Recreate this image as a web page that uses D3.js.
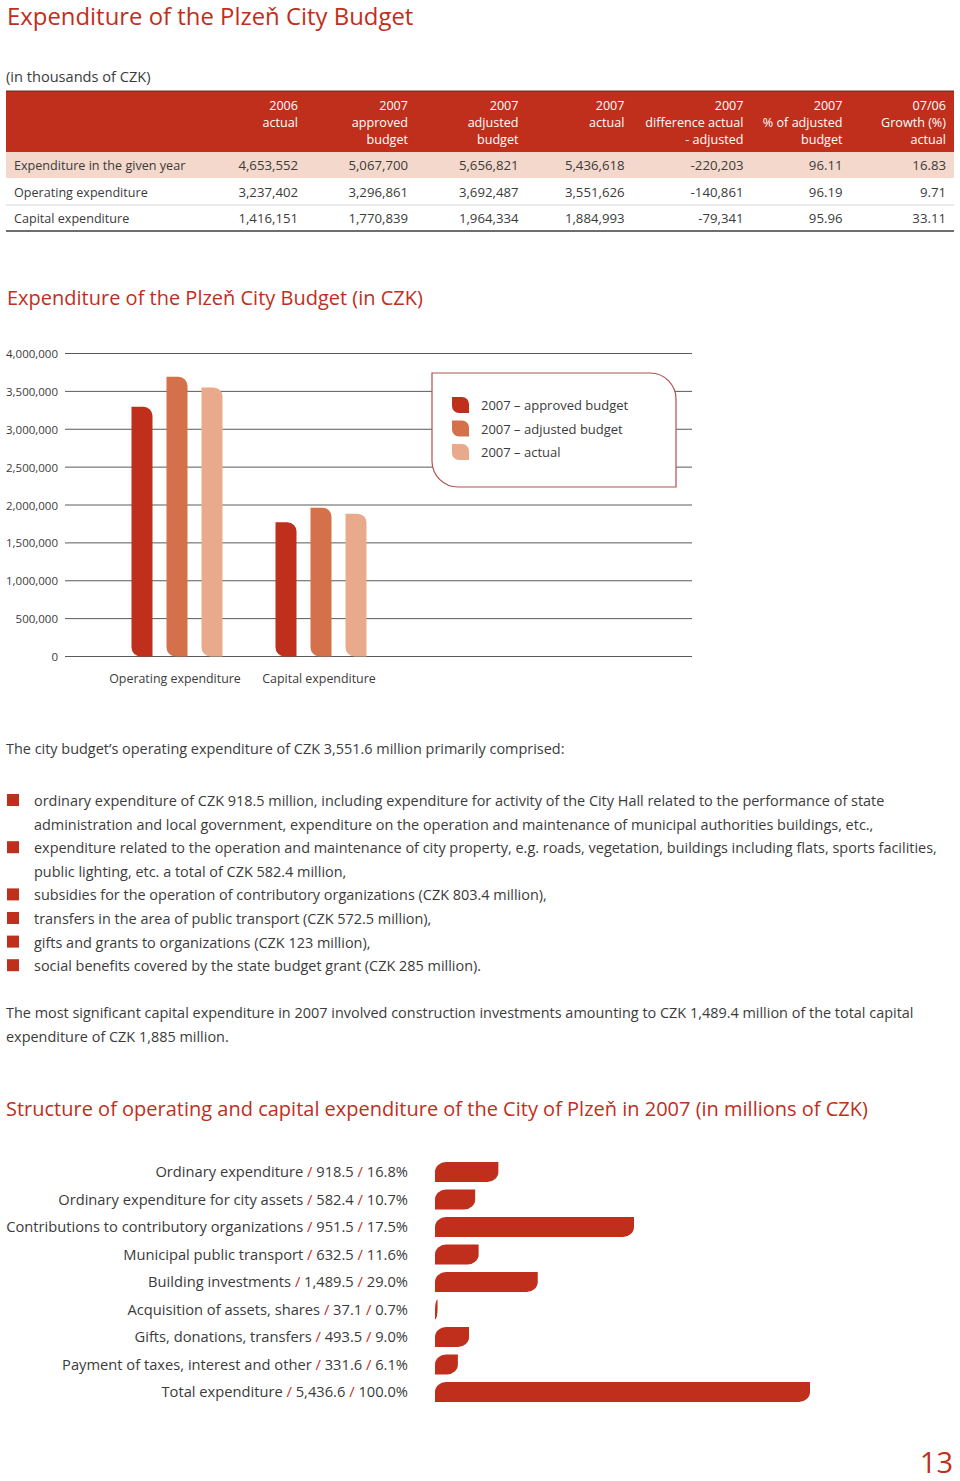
<!DOCTYPE html>
<html>
<head>
<meta charset="utf-8">
<script src="https://cdn.jsdelivr.net/npm/d3@7"></script>
<style>
  html, body { margin: 0; padding: 0; background: #fff; }
  svg { display: block; }
  text { font-family: "Open Sans", "Noto Sans", sans-serif; }
</style>
</head>
<body>
<svg id="page" width="960" height="1481"></svg>
<script>
// ---------------- DATA ----------------
const tableHeaders = [
  ["2006", "actual"],
  ["2007", "approved", "budget"],
  ["2007", "adjusted", "budget"],
  ["2007", "actual"],
  ["2007", "difference actual", "- adjusted"],
  ["2007", "% of adjusted", "budget"],
  ["07/06", "Growth (%)", "actual"]
];
const tableRowLabels = ["Expenditure in the given year", "Operating expenditure", "Capital expenditure"];
const actual2006   = [4653552, 3237402, 1416151];
const approved2007 = [5067700, 3296861, 1770839];
const adjusted2007 = [5656821, 3692487, 1964334];
const actual2007   = [5436618, 3551626, 1884993];
const diff2007     = [-220203, -140861, -79341];
const pctAdjusted  = [96.11, 96.19, 95.96];
const growth0706   = [16.83, 9.71, 33.11];

const barCategories = ["Operating expenditure", "Capital expenditure"];
const barSeries = ["2007 – approved budget", "2007 – adjusted budget", "2007 – actual"];
const opValues  = [3296861, 3692487, 3551626];
const capValues = [1770839, 1964334, 1884993];
const yTicks = [0, 500000, 1000000, 1500000, 2000000, 2500000, 3000000, 3500000, 4000000];

const introLine = "The city budget’s operating expenditure of CZK 3,551.6 million primarily comprised:";
const bulletItems = [
  ["ordinary expenditure of CZK 918.5 million, including expenditure for activity of the City Hall related to the performance of state",
   "administration and local government, expenditure on the operation and maintenance of municipal authorities buildings, etc.,"],
  ["expenditure related to the operation and maintenance of city property, e.g. roads, vegetation, buildings including flats, sports facilities,",
   "public lighting, etc. a total of CZK 582.4 million,"],
  ["subsidies for the operation of contributory organizations (CZK 803.4 million),"],
  ["transfers in the area of public transport (CZK 572.5 million),"],
  ["gifts and grants to organizations (CZK 123 million),"],
  ["social benefits covered by the state budget grant (CZK 285 million)."]
];
const closingLines = [
  "The most significant capital expenditure in 2007 involved construction investments amounting to CZK 1,489.4 million of the total capital",
  "expenditure of CZK 1,885 million."
];

const structNames = ["Ordinary expenditure", "Ordinary expenditure for city assets", "Contributions to contributory organizations",
  "Municipal public transport", "Building investments", "Acquisition of assets, shares", "Gifts, donations, transfers",
  "Payment of taxes, interest and other", "Total expenditure"];
const structValueLabels = ["918.5", "582.4", "951.5", "632.5", "1,489.5", "37.1", "493.5", "331.6", "5,436.6"];
const structPctLabels = ["16.8%", "10.7%", "17.5%", "11.6%", "29.0%", "0.7%", "9.0%", "6.1%", "100.0%"];
// bar lengths as drawn in the original (the contributions bar is drawn longer than its label value)
const structBarValues = [918.5, 582.4, 2885, 632.5, 1489.5, 37.1, 493.5, 331.6, 5436.6];

// ---------------- STYLE ----------------
const RED = "#bf2f1c", MID = "#d4704a", LIGHT = "#e9aa8c", TXT = "#3b3b3b", ROWBG = "#f3d8cb";
const seriesColors = [RED, MID, LIGHT];

const svg = d3.select("#page");
const loc = d3.formatLocale({ decimal: ".", thousands: ",", grouping: [3], currency: ["", ""], minus: "-" });
const fmt = loc.format(",");
const fmt2 = loc.format(".2f");

// ---------------- TITLE + TABLE ----------------
svg.append("text").attr("x", 7).attr("y", 25).attr("fill", RED)
  .style("font-size", "23.9px").text("Expenditure of the Plzeň City Budget");
svg.append("text").attr("x", 6).attr("y", 82).attr("fill", TXT)
  .style("font-size", "14.6px").text("(in thousands of CZK)");

const tLeft = 6, tRight = 954;
svg.append("rect").attr("x", tLeft).attr("y", 91).attr("width", tRight - tLeft).attr("height", 61).attr("fill", RED);
svg.append("line").attr("x1", tLeft).attr("x2", tRight).attr("y1", 91).attr("y2", 91).attr("stroke", "#6b2a20").attr("stroke-width", 1);
svg.append("rect").attr("x", tLeft).attr("y", 152).attr("width", tRight - tLeft).attr("height", 26).attr("fill", ROWBG);

const colRight = [298, 408, 518.5, 624.5, 743.5, 842.5, 946];
tableHeaders.forEach((lines, i) => {
  const t = svg.append("text").attr("text-anchor", "end").attr("fill", "#fff").style("font-size", "12.6px");
  lines.forEach((l, j) => t.append("tspan").attr("x", colRight[i]).attr("y", 110 + j * 17).text(l));
});
const rowY = [170, 197, 223];
const columnsData = [actual2006.map(fmt), approved2007.map(fmt), adjusted2007.map(fmt), actual2007.map(fmt),
  diff2007.map(fmt), pctAdjusted.map(fmt2), growth0706.map(fmt2)];
tableRowLabels.forEach((lab, r) => {
  svg.append("text").attr("x", 14).attr("y", rowY[r]).attr("fill", TXT).style("font-size", "12.6px").text(lab);
  columnsData.forEach((col, c) => {
    svg.append("text").attr("x", colRight[c]).attr("y", rowY[r]).attr("text-anchor", "end")
      .attr("fill", TXT).style("font-size", "13.2px").text(col[r]);
  });
});
svg.append("line").attr("x1", tLeft).attr("x2", tRight).attr("y1", 205).attr("y2", 205).attr("stroke", "#d8d8d8");
svg.append("line").attr("x1", tLeft).attr("x2", tRight).attr("y1", 231).attr("y2", 231).attr("stroke", "#6e6e6e").attr("stroke-width", 2);

// ---------------- VERTICAL BAR CHART ----------------
svg.append("text").attr("x", 7).attr("y", 305).attr("fill", RED)
  .style("font-size", "20px").text("Expenditure of the Plzeň City Budget (in CZK)");

const y = d3.scaleLinear().domain([0, 4000000]).range([656.5, 353.5]);
const gridL = 65, gridR = 692;
const grid = svg.append("g");
yTicks.forEach(t => {
  grid.append("line").attr("x1", gridL).attr("x2", gridR).attr("y1", y(t)).attr("y2", y(t))
    .attr("stroke", "#5a5a5a").attr("stroke-width", 1);
});
const yAxis = d3.axisLeft(y).tickValues(yTicks).tickFormat(fmt).tickSize(0).tickPadding(0);
const yg = svg.append("g").attr("transform", "translate(58,0)").call(yAxis);
yg.select(".domain").remove();
yg.selectAll("text").attr("fill", TXT).style("font-size", "11.5px").style("font-family", '"Open Sans", sans-serif').attr("dy", "0.35em");

// legend box (drawn over gridlines)
const lb = { x: 432, y: 373, w: 244, h: 114, r: 26 };
svg.append("path")
  .attr("d", `M${lb.x},${lb.y} H${lb.x + lb.w - lb.r} A${lb.r},${lb.r} 0 0 1 ${lb.x + lb.w},${lb.y + lb.r} V${lb.y + lb.h} H${lb.x + lb.r} A${lb.r},${lb.r} 0 0 1 ${lb.x},${lb.y + lb.h - lb.r} Z`)
  .attr("fill", "#fff").attr("stroke", "#b0524a").attr("stroke-width", 1.2);

function leafV(x, yTop, w, yBot, r) {
  const h = yBot - yTop;
  r = Math.min(r, w / 2, h / 2);
  return `M${x},${yTop} H${x + w - r} A${r},${r} 0 0 1 ${x + w},${yTop + r} V${yBot} H${x + r} A${r},${r} 0 0 1 ${x},${yBot - r} Z`;
}

const x0 = d3.scalePoint().domain(barCategories).range([177, 321]);
const x1 = d3.scaleBand().domain(barSeries).range([-45.5, 45.5]).paddingInner(0.4).paddingOuter(0);
const barGroups = [opValues, capValues];
barCategories.forEach((cat, ci) => {
  barGroups[ci].forEach((v, si) => {
    const bx = x0(cat) + x1(barSeries[si]);
    svg.append("path").attr("d", leafV(bx, y(v), x1.bandwidth(), y(0), 9)).attr("fill", seriesColors[si]);
  });
  svg.append("text").attr("x", x0(cat) - 2).attr("y", 683).attr("text-anchor", "middle")
    .attr("fill", TXT).style("font-size", "12.4px").text(cat);
});

barSeries.forEach((s, i) => {
  const ly = 405 + i * 23.5;
  svg.append("path").attr("d", leafV(452, ly - 8, 17, ly + 8, 7)).attr("fill", seriesColors[i]);
  svg.append("text").attr("x", 481).attr("y", ly + 5).attr("fill", TXT).style("font-size", "13px").text(s);
});

// ---------------- BODY TEXT ----------------
const bodyFs = "14.45px";
svg.append("text").attr("x", 6).attr("y", 754).attr("fill", TXT).style("font-size", bodyFs).text(introLine);
let ly = 806;
bulletItems.forEach(lines => {
  svg.append("rect").attr("x", 7).attr("y", ly - 12).attr("width", 12).attr("height", 12).attr("fill", RED);
  lines.forEach(l => {
    svg.append("text").attr("x", 34).attr("y", ly).attr("fill", TXT).style("font-size", bodyFs).text(l);
    ly += 23.6;
  });
});
closingLines.forEach((l, i) => {
  svg.append("text").attr("x", 6).attr("y", 1018 + i * 24).attr("fill", TXT).style("font-size", bodyFs).text(l);
});

// ---------------- HORIZONTAL STRUCTURE CHART ----------------
svg.append("text").attr("x", 6).attr("y", 1116).attr("fill", RED)
  .style("font-size", "20px").text("Structure of operating and capital expenditure of the City of Plzeň in 2007 (in millions of CZK)");

const hx = d3.scaleLinear().domain([0, 5436.6]).range([435, 810]);
const hy = d3.scaleBand().domain(structNames).range([1158.25, 1405.75]).paddingInner(0.27).paddingOuter(0.135);

function leafH(xs, xe, yt, yb, r) {
  const len = xe - xs;
  const rx = Math.min(r, len), ry = Math.min(r, (yb - yt) / 2);
  return `M${xs},${yt + ry} A${rx},${ry} 0 0 1 ${xs + rx},${yt} H${xe} V${yb - ry} A${rx},${ry} 0 0 1 ${xe - rx},${yb} H${xs} Z`;
}

structNames.forEach((n, i) => {
  const cy = hy(n) + hy.bandwidth() / 2;
  const t = svg.append("text").attr("x", 408).attr("y", cy + 5).attr("text-anchor", "end")
    .attr("fill", TXT).style("font-size", "14.7px");
  t.append("tspan").text(n);
  t.append("tspan").attr("fill", RED).text(" / ");
  t.append("tspan").text(structValueLabels[i]);
  t.append("tspan").attr("fill", RED).text(" / ");
  t.append("tspan").text(structPctLabels[i]);
  svg.append("path").attr("d", leafH(hx(0), hx(structBarValues[i]), hy(n), hy(n) + hy.bandwidth(), 11)).attr("fill", RED);
});

// page number
svg.append("text").attr("x", 953).attr("y", 1473).attr("text-anchor", "end").attr("fill", RED)
  .style("font-size", "29px").text("13");
</script>
</body>
</html>
